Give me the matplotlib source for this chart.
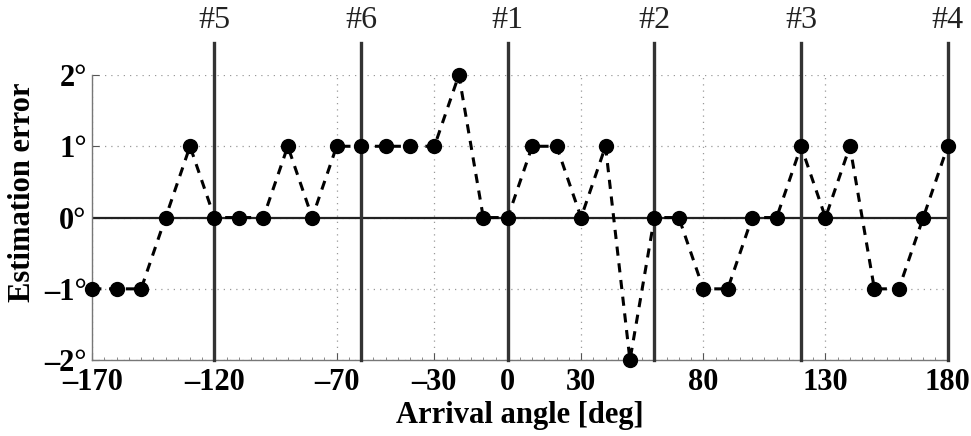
import matplotlib
matplotlib.use('Agg')
import matplotlib.pyplot as plt

# --- datos ---
angulos = list(range(-170, 181, 10))
errores = [-1, -1, -1, 0, 1, 0, 0, 0, 1, 0,
           1, 1, 1, 1, 1, 2, 0, 0, 1, 1,
           0, 1, -2, 0, 0, -1, -1, 0, 0, 1,
           0, 1, -1, -1, 0, 1]

xticks = [-170, -120, -70, -30, 0, 30, 80, 130, 180]
xtick_labels = ['–170', '–120', '–70', '–30', '0', '30', '80', '130', '180']
yticks = [-2, -1, 0, 1, 2]
ytick_labels = ['–2°', '–1°', '0°', '1°', '2°']

# posiciones de los sensores
sensores = [-120, -60, 0, 60, 120, 180]
sensor_labels = ['#5', '#6', '#1', '#2', '#3', '#4']

plt.rcParams['font.family'] = ['Liberation Serif', 'DejaVu Serif']

fig = plt.figure(figsize=(9.71, 4.36), dpi=100)
ax = fig.add_axes([0.095, 0.174, 0.881, 0.654])

ax.set_xlim(-170, 180)
ax.set_ylim(-2, 2)

ax.grid(True, linestyle=(0, (1, 4)), color='#999999', linewidth=0.9)

# linea horizontal en cero
ax.axhline(0, color='#222222', linewidth=1.6, zorder=2)

# lineas verticales de los sensores
for s, lab in zip(sensores, sensor_labels):
    ax.axvline(s, ymin=0, ymax=1.112, color='#333333', linewidth=2.4,
               clip_on=False, zorder=3)
    ax.text(s, 1.19, lab, transform=ax.get_xaxis_transform(),
            ha='center', va='center', fontsize=23, color='#222222')

ax.plot(angulos, errores, color='black', linestyle=(0, (3, 2.5)),
        linewidth=2.2, marker='o', markersize=10, zorder=4, clip_on=False)

ax.set_xticks(xticks)
ax.set_xticklabels(xtick_labels, fontweight='bold', fontsize=22)
ax.set_yticks(yticks)
ax.set_yticklabels(ytick_labels, fontweight='bold', fontsize=22)
ax.tick_params(axis='both', direction='in', length=5, color='#555555')
ax.tick_params(axis='x', pad=6)
ax.tick_params(axis='y', pad=4)
ax.set_xticks(range(-170, 181, 5), minor=True)
ax.tick_params(axis='x', which='minor', direction='in', length=2, color='#777777')

for sp in ['top', 'right']:
    ax.spines[sp].set_visible(False)
for sp in ['left', 'bottom']:
    ax.spines[sp].set_color('#777777')
    ax.spines[sp].set_linewidth(1.0)

ax.set_xlabel('Arrival angle [deg]', fontweight='bold', fontsize=22)
ax.set_ylabel('Estimation error', fontweight='bold', fontsize=22)
ax.xaxis.set_label_coords(0.5, -0.145)
ax.yaxis.set_label_coords(-0.064, 0.59)

fig.savefig('out.png', dpi=100)
